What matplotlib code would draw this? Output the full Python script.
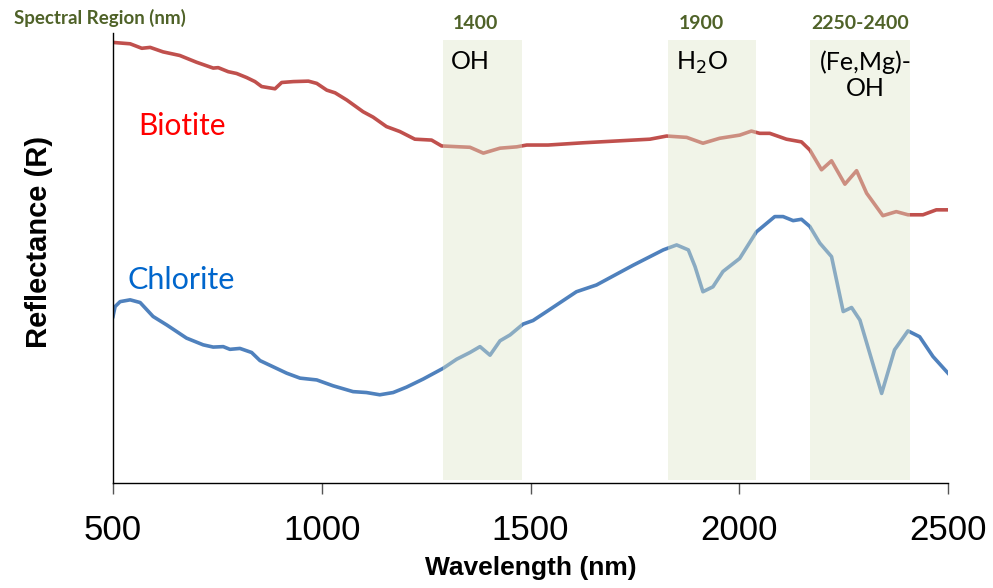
import matplotlib
matplotlib.use("Agg")
import matplotlib.pyplot as plt
import numpy as np

# Biotite spectrum
bio_wl = [500, 541, 569, 589, 620, 660, 700, 740, 752, 776, 796, 820, 840, 856, 888, 904,
          932, 968, 988, 1012, 1032, 1060, 1099, 1123, 1155, 1187, 1223, 1263, 1287, 1331,
          1355, 1387, 1427, 1467, 1491, 1542, 1626, 1706, 1786, 1826, 1874, 1913, 1953,
          2001, 2029, 2049, 2073, 2113, 2149, 2169, 2197, 2221, 2253, 2281, 2305, 2344,
          2376, 2404, 2440, 2472, 2500]
bio_r = [0.979, 0.976, 0.966, 0.968, 0.958, 0.950, 0.935, 0.922, 0.923, 0.914, 0.910, 0.901,
         0.892, 0.881, 0.876, 0.890, 0.892, 0.893, 0.888, 0.873, 0.867, 0.851, 0.825, 0.813,
         0.792, 0.781, 0.764, 0.762, 0.749, 0.747, 0.746, 0.733, 0.744, 0.747, 0.751, 0.751,
         0.756, 0.760, 0.764, 0.771, 0.768, 0.755, 0.766, 0.773, 0.782, 0.777, 0.777, 0.764,
         0.758, 0.740, 0.696, 0.716, 0.664, 0.694, 0.644, 0.594, 0.603, 0.596, 0.596, 0.607,
         0.607]

# Chlorite spectrum
chl_wl = [500, 505, 517, 541, 565, 596, 629, 676, 716, 740, 764, 780, 804, 832, 852, 884,
          916, 948, 988, 1027, 1075, 1107, 1139, 1171, 1203, 1243, 1291, 1323, 1355, 1379,
          1403, 1427, 1451, 1482, 1506, 1542, 1610, 1658, 1746, 1818, 1850, 1878, 1894,
          1913, 1937, 1961, 2001, 2041, 2085, 2105, 2129, 2149, 2169, 2193, 2221, 2249,
          2269, 2289, 2341, 2372, 2404, 2432, 2464, 2500]
chl_r = [0.370, 0.392, 0.403, 0.407, 0.401, 0.370, 0.351, 0.322, 0.307, 0.302, 0.303, 0.297,
         0.299, 0.290, 0.272, 0.258, 0.244, 0.233, 0.229, 0.216, 0.203, 0.201, 0.196, 0.201,
         0.213, 0.231, 0.255, 0.275, 0.290, 0.303, 0.284, 0.316, 0.329, 0.353, 0.361, 0.383,
         0.425, 0.440, 0.484, 0.518, 0.529, 0.518, 0.481, 0.425, 0.436, 0.470, 0.499, 0.558,
         0.592, 0.592, 0.583, 0.586, 0.570, 0.533, 0.503, 0.381, 0.390, 0.362, 0.199, 0.296,
         0.338, 0.325, 0.281, 0.244]

# absorption regions
region_lo = [1290, 1830, 2170]
region_hi = [1480, 2040, 2410]
region_head = ["1400", "1900", "2250-2400"]
region_name = ["OH", "H$_2$O", "(Fe,Mg)-\nOH"]
# where the labels sit (nm), they are not centred in the bands
head_x = [1367, 1910, 2289]
name_x = [1355, 1910, 2302]

olive = "#4f6228"

fig = plt.figure(figsize=(9.93, 5.88), dpi=100)
ax = fig.add_axes([0.1138, 0.1786, 0.8409, 0.7653])

ax.plot(bio_wl, bio_r, color="#c0504d", lw=2.6, zorder=2)
ax.plot(chl_wl, chl_r, color="#4f81bd", lw=2.6, zorder=2)

# shaded bands go on top so the lines show through faded
for i in range(len(region_lo)):
    ax.axvspan(region_lo[i], region_hi[i], ymin=0.0067, ymax=0.984, color="#dee6c9",
               alpha=0.42, lw=0, zorder=3)
    ax.text(head_x[i], 1.022, region_head[i], color=olive, fontsize=14, fontweight="bold",
            family="Lato", ha="center", va="center", clip_on=False)
    ax.text(name_x[i], 0.962, region_name[i], color="black", fontsize=18, family="Lato",
            ha="center", va="top", linespacing=1.15, zorder=4)

ax.text(665, 0.793, "Biotite", color="#ff0000", fontsize=21.5, family="Lato",
        ha="center", va="center")
ax.text(663, 0.451, "Chlorite", color="#0066cc", fontsize=22, family="Lato",
        ha="center", va="center")

fig.text(14 / 993, 1 - 18 / 588, "Spectral Region (nm)", color=olive, fontsize=13.5,
         fontweight="bold", family="Lato", ha="left", va="center")

ax.set_xlim(500, 2500)
ax.set_ylim(0, 1)
ax.set_xticks([500, 1000, 1500, 2000, 2500])
ax.set_yticks([])
ax.tick_params(axis="x", length=8, width=1, color="#555555", labelsize=25, pad=14)
for lab in ax.get_xticklabels():
    lab.set_family("Liberation Sans")
for s in ["top", "right"]:
    ax.spines[s].set_visible(False)
ax.spines["left"].set_linewidth(1)
ax.spines["bottom"].set_linewidth(1)

ax.set_xlabel("Wavelength (nm)", fontsize=19, fontweight="bold", family="Liberation Sans",
              labelpad=7)
ax.set_ylabel("Reflectance (R)", fontsize=21, fontweight="bold", family="Liberation Sans")
ax.yaxis.set_label_coords(-0.072, 0.536)

fig.savefig("out.png", dpi=100)
